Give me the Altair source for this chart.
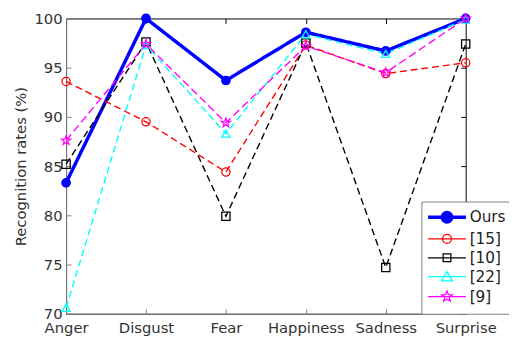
import math
import altair as alt
import pandas as pd

categories = ["Anger", "Disgust", "Fear", "Happiness", "Sadness", "Surprise"]
series_names = ["Ours", "[15]", "[10]", "[22]", "[9]"]
ours = [83.3, 100.0, 93.7, 98.6, 96.7, 100.0]
r15 = [93.6, 89.5, 84.4, 97.3, 94.4, 95.5]
r10 = [85.2, 97.6, 79.9, 97.5, 74.7, 97.4]
r22 = [70.6, 97.3, 88.3, 98.4, 96.4, 99.9]
r9 = [87.6, 97.4, 89.4, 97.2, 94.5, 100.0]
y_ticks = [70, 75, 80, 85, 90, 95, 100]

values = {"Ours": ours, "[15]": r15, "[10]": r10, "[22]": r22, "[9]": r9}
df = pd.DataFrame([
    {"cat": c, "series": s, "value": v}
    for s in series_names for c, v in zip(categories, values[s])
])

FONT = "DejaVu Sans"
colors = ["#0000ff", "#ff0000", "#000000", "#00ffff", "#ff00ff"]
fills = ["#0000ff", "transparent", "transparent", "transparent", "transparent"]
line_widths = [3.5, 1.4, 1.4, 1.4, 1.4]
point_widths = [1.5, 1.3, 1.3, 1.3, 1.3]
legend_widths = [3.5, 1.3, 1.3, 1.3, 1.3]
dashes = [[1, 0], [7, 4], [7, 4], [7, 4], [8, 4]]


def star(R, r):
    pts = []
    for i in range(10):
        a = -math.pi / 2 + i * math.pi / 5
        rad = R if i % 2 == 0 else r
        pts.append(f"{rad*math.cos(a):.3f},{rad*math.sin(a):.3f}")
    return "M" + "L".join(pts) + "Z"


point_shapes = ["circle", "circle", "square", "triangle-up", star(1.15, 0.48)]
LINE = "M-3.2,0H3.2"
legend_shapes = [
    LINE + "M-0.8,0A0.8,0.8,0,1,0,0.8,0A0.8,0.8,0,1,0,-0.8,0Z",
    LINE + "M-0.75,0A0.75,0.75,0,1,0,0.75,0A0.75,0.75,0,1,0,-0.75,0Z",
    LINE + "M-0.65,-0.65H0.65V0.65H-0.65Z",
    LINE + "M0,-0.85L0.9,0.7L-0.9,0.7Z",
    LINE + star(0.95, 0.4),
]

xscale = alt.Scale(domain=categories, padding=0)
yscale = alt.Scale(domain=[70, 100], nice=False, zero=False)


def stroke_enc(legend):
    return alt.Stroke("series:N", scale=alt.Scale(domain=series_names, range=colors), legend=legend)


def fill_enc(legend):
    return alt.Fill("series:N", scale=alt.Scale(domain=series_names, range=fills), legend=legend)


def sw_enc(rng, legend):
    return alt.StrokeWidth("series:N", scale=alt.Scale(type="ordinal", domain=series_names, range=rng), legend=legend)


lines = alt.Chart(df).mark_line().encode(
    x=alt.X("cat:N", sort=categories, scale=xscale,
            axis=alt.Axis(title=None, labelAngle=0, labelFont=FONT, labelFontSize=15,
                          labelColor="#333333", domainColor="#808080", tickColor="#808080",
                          tickSize={"expr": "-5"}, labelPadding=12, grid=False)),
    y=alt.Y("value:Q", scale=yscale,
            axis=alt.Axis(title="Recognition rates (%)", values=y_ticks, grid=False,
                          labelFont=FONT, labelFontSize=15, labelColor="#333333",
                          domainColor="#808080", tickColor="#808080",
                          tickSize={"expr": "-5"}, labelPadding=9,
                          titleFont=FONT, titleFontSize=15, titleFontWeight="normal",
                          titleColor="#333333", titleX=-46, titleY=150,
                          titleBaseline="middle", titleAlign="center", titleAngle=270)),
    stroke=stroke_enc(None),
    strokeWidth=sw_enc(line_widths, None),
    strokeDash=alt.StrokeDash("series:N", scale=alt.Scale(domain=series_names, range=dashes), legend=None),
    detail="series:N",
)

points = alt.Chart(df).mark_point(opacity=1, size=70).encode(
    x=alt.X("cat:N", sort=categories, scale=xscale,
            axis=alt.Axis(orient="top", title=None, labels=False, domain=False,
                          tickColor="black", tickSize={"expr": "-5"}, grid=False)),
    y=alt.Y("value:Q", scale=yscale,
            axis=alt.Axis(orient="right", title=None, labels=False, domain=False, values=y_ticks,
                          tickColor="black", tickSize={"expr": "-5"}, grid=False)),
    stroke=stroke_enc(None),
    fill=fill_enc(None),
    strokeWidth=sw_enc(point_widths, None),
    shape=alt.Shape("series:N", scale=alt.Scale(domain=series_names, range=point_shapes), legend=None),
)

leg = alt.Legend(title=None, orient="none", legendX=361, legendY=186, padding=8,
                 symbolOffset=10, labelOffset=15, symbolSize=144, rowPadding=2.2,
                 labelFont=FONT, labelFontSize=15.5, labelColor="#222222",
                 strokeColor="#808080", fillColor="white", cornerRadius=0,
                 symbolOpacity=1)

legend_layer = alt.Chart(df).mark_point(opacity=0, size=144).encode(
    x=alt.X("cat:N", sort=categories, scale=xscale, axis=None),
    y=alt.Y("value:Q", scale=yscale, axis=None),
    stroke=stroke_enc(leg),
    fill=fill_enc(leg),
    strokeWidth=sw_enc(legend_widths, leg),
    shape=alt.Shape("series:N", scale=alt.Scale(domain=series_names, range=legend_shapes), legend=leg),
)

chart = alt.layer(lines, points, legend_layer).resolve_scale(
    stroke="independent", fill="independent", shape="independent",
    strokeWidth="independent", strokeDash="independent",
).resolve_axis(x="independent", y="independent").properties(
    width=406, height=300,
    autosize=alt.AutoSizeParams(type="none"),
    padding={"left": 59, "top": 8, "right": 44, "bottom": 23},
).configure_view(stroke="black", strokeWidth=1)

chart.save("out.html", embed_options={"renderer": "svg", "actions": False})
